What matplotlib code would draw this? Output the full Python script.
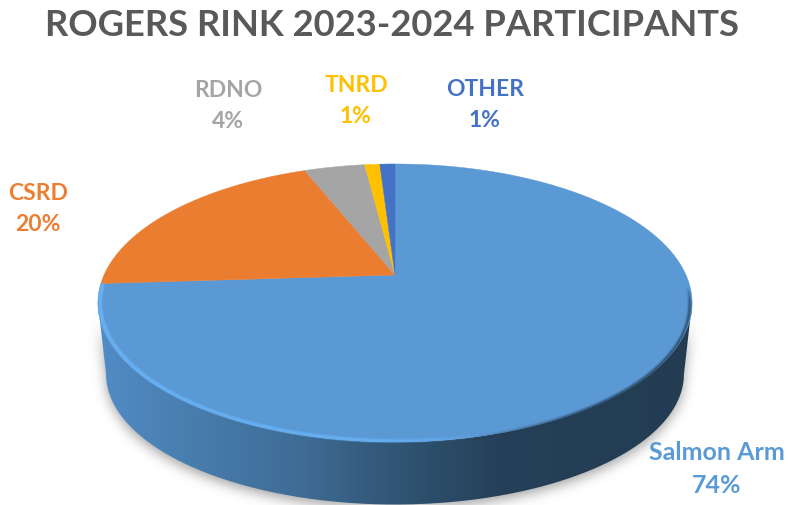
import numpy as np
import matplotlib
matplotlib.use("Agg")
import matplotlib.pyplot as plt
from matplotlib.collections import LineCollection
from matplotlib.colors import to_rgb
from matplotlib.patches import PathPatch
from matplotlib.path import Path

plt.rcParams['font.family'] = ['Lato', 'DejaVu Sans']

regions = ["Salmon Arm", "CSRD", "RDNO", "TNRD", "OTHER"]
shares = [74, 20, 4, 1, 1]
slice_colors = ["#5B99D5", "#EB7D31", "#A5A5A5", "#FFC000", "#4472C4"]
label_colors = ["#5B9BD5", "#ED7D31", "#A5A5A5", "#FFC000", "#4472C4"]
label_xy = [(717, 469), (38, 209), (228, 106), (356, 101), (485, 105)]
label_sizes = [18, 16.5, 16.5, 16.5, 16.5]
title = "ROGERS RINK 2023-2024 PARTICIPANTS"

W, H = 788, 506
CX = 395
TILT = 0.2014


def disc(theta, rx, ry, y0):
    # theta runs clockwise from twelve o'clock, seen through a simple perspective
    u, v = np.sin(theta), np.cos(theta)
    w = 1 + TILT * v
    return CX + rx * u / w, y0 - ry * v / w


def top(theta):
    return disc(theta, 291, 133.4, 276)


def bottom(theta):
    return disc(theta, 283, 125, 349)


fig = plt.figure(figsize=(W / 100, H / 100), dpi=100)
ax = fig.add_axes([0, 0, 1, 1])
ax.set_xlim(0, W)
ax.set_ylim(H, 0)
ax.axis("off")

# the widest points of the disc, the wall hangs between them
t_right = np.pi / 2 + np.arcsin(TILT)
t_left = 2 * np.pi - t_right
arc = np.linspace(t_right, t_left, 300)
xt, yt = top(arc)
xb, yb = bottom(arc)
wall = Path(np.column_stack([np.r_[xt, xb[::-1]], np.r_[yt, yb[::-1]]]))

# soft shadow under the disc
gx, gy = np.meshgrid(np.arange(W) + 0.5, np.arange(H) + 0.5)
mask = wall.contains_points(np.column_stack([gx.ravel(), gy.ravel() - 4])).reshape(H, W).astype(float)
kernel = np.exp(-0.5 * (np.arange(-18, 19) / 6.0) ** 2)
kernel /= kernel.sum()
mask = np.apply_along_axis(lambda r: np.convolve(r, kernel, mode="same"), 0, mask)
mask = np.apply_along_axis(lambda r: np.convolve(r, kernel, mode="same"), 1, mask)
shadow = np.zeros((H, W, 4))
shadow[..., :3] = 0.35
shadow[..., 3] = mask * 0.55
ax.imshow(shadow, extent=(0, W, H, 0), aspect="auto", zorder=1)

# wall shading runs left to right
stop_x = [95, 200, 300, 400, 500, 700]
stop_c = ["#528DC6", "#477CAC", "#3F6C95", "#305473", "#254058", "#233C52"]
stop_rgb = np.array([to_rgb(c) for c in stop_c])
xs = np.arange(W) + 0.5
ramp = np.column_stack([np.interp(xs, stop_x, stop_rgb[:, i]) for i in range(3)])
img = ax.imshow(ramp[np.newaxis, :, :], extent=(0, W, H, 0), aspect="auto", zorder=2)
img.set_clip_path(PathPatch(wall, transform=ax.transData))

# top face, slices go clockwise from twelve o'clock
edges = np.r_[0, np.cumsum(shares)] / np.sum(shares) * 2 * np.pi
for i in range(len(shares)):
    th = np.linspace(edges[i], edges[i + 1], 400)
    x, y = top(th)
    ax.fill(np.r_[CX, x], np.r_[276, y], color=slice_colors[i], lw=0.3, zorder=3)

# bevel on the rim: light on the left, dark on the right
rim = np.linspace(edges[1] - 0.01, t_right - 0.12, 500)
xr, yr = top(rim)
# pull the bevel just inside the edge of the face
xr_in = CX + (xr - CX) * 0.992
yr_in = 276 + (yr - 276) * 0.992
points = np.column_stack([xr_in, yr_in]).reshape(-1, 1, 2)
segs = np.concatenate([points[:-1], points[1:]], axis=1)
mid = 0.5 * (xr[:-1] + xr[1:])
light = np.clip((500 - mid) / 140, 0, 1)
dark = np.clip((mid - 470) / 120, 0, 1) * np.clip((rim[:-1] - rim[-1]) / 0.12, 0, 1)
for lw, a in [(3.6, 0.18), (2.2, 0.32), (1.0, 0.5)]:
    rgba = np.zeros((len(mid), 4))
    rgba[:, :3] = to_rgb("#68B2F5")
    rgba[:, 3] = light * a
    ax.add_collection(LineCollection(segs, colors=rgba, linewidths=lw, zorder=4, capstyle="round"))
    rgba = np.zeros((len(mid), 4))
    rgba[:, :3] = to_rgb("#243E55")
    rgba[:, 3] = dark * a
    ax.add_collection(LineCollection(segs + [0, 1.5], colors=rgba, linewidths=lw, zorder=4))

ax.text(392, 25, title, ha="center", va="center", fontsize=26.2, fontweight="bold", color="#595959")

for name, share, col, size, (lx, ly) in zip(regions, shares, label_colors, label_sizes, label_xy):
    ax.text(lx, ly, f"{name}\n{share}%", ha="center", va="center", fontsize=size,
            fontweight="bold", color=col, linespacing=1.6 if size < 18 else 1.5)

fig.savefig("out.png", dpi=100)
